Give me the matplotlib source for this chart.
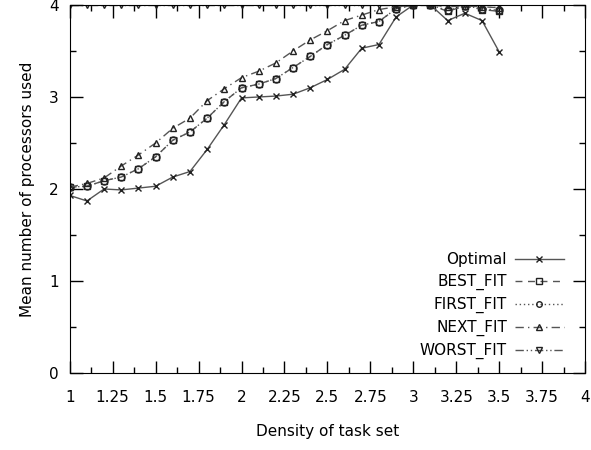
import numpy as np
import matplotlib.pyplot as plt
from matplotlib.ticker import MultipleLocator

# task set density (x axis)
density = [1.0, 1.1, 1.2, 1.3, 1.4, 1.5, 1.6, 1.7, 1.8, 1.9,
           2.0, 2.1, 2.2, 2.3, 2.4, 2.5, 2.6, 2.7, 2.8, 2.9,
           3.0, 3.1, 3.2, 3.3, 3.4, 3.5]

optimal = [1.93, 1.87, 2.00, 1.99, 2.01, 2.03, 2.13, 2.19, 2.43, 2.70,
           2.99, 3.00, 3.01, 3.03, 3.10, 3.19, 3.30, 3.53, 3.57, 3.87,
           4.00, 4.00, 3.83, 3.91, 3.83, 3.49]
best_fit = [2.02, 2.03, 2.09, 2.13, 2.22, 2.35, 2.53, 2.62, 2.77, 2.95,
            3.10, 3.14, 3.20, 3.32, 3.44, 3.57, 3.67, 3.78, 3.82, 3.96,
            4.00, 4.00, 3.93, 3.99, 3.95, 3.93]
first_fit = [2.02, 2.03, 2.09, 2.13, 2.22, 2.35, 2.53, 2.62, 2.77, 2.95,
             3.10, 3.14, 3.20, 3.32, 3.44, 3.57, 3.67, 3.78, 3.82, 3.96,
             4.00, 4.00, 3.94, 3.99, 3.96, 3.94]
next_fit = [2.02, 2.06, 2.12, 2.25, 2.37, 2.50, 2.66, 2.77, 2.96, 3.09,
            3.21, 3.28, 3.37, 3.50, 3.62, 3.72, 3.83, 3.89, 3.95, 3.98,
            4.00, 4.00, 3.98, 3.99, 3.98, 3.97]
worst_fit = [4.0] * len(density)

series = [
    ("Optimal", optimal, "-", "x"),
    ("BEST_FIT", best_fit, (0, (5, 4)), "s"),
    ("FIRST_FIT", first_fit, (0, (1, 2)), "o"),
    ("NEXT_FIT", next_fit, (0, (6, 3, 1, 3)), "^"),
    ("WORST_FIT", worst_fit, (0, (6, 2, 1, 2, 1, 2)), "v"),
]

fig = plt.figure(figsize=(5.91, 4.5), dpi=100)
ax = fig.add_axes([0.118, 0.171, 0.872, 0.818])

for name, vals, ls, mk in series:
    ax.plot(density, vals, linestyle=ls, marker=mk, color="#555555",
            markerfacecolor="none", markeredgecolor="#222222",
            markersize=5, markeredgewidth=1.0, linewidth=1.0, label=name)

ax.set_xlim(1, 4)
ax.set_ylim(0, 4)
ax.xaxis.set_minor_locator(MultipleLocator(0.125))
ax.yaxis.set_major_locator(MultipleLocator(1))
ax.yaxis.set_minor_locator(MultipleLocator(0.5))
ax.set_xticks(np.arange(1, 4.01, 0.25))
ax.set_xticklabels(["1", "1.25", "1.5", "1.75", "2", "2.25", "2.5", "2.75",
                    "3", "3.25", "3.5", "3.75", "4"])
ax.tick_params(which="major", direction="in", length=9, width=1,
               top=True, right=True, labelsize=11, pad=12)
ax.tick_params(which="minor", direction="in", length=4.5, width=1,
               top=True, right=True)
ax.tick_params(axis="y", pad=8)

ax.set_xlabel("Density of task set", fontsize=11, labelpad=14)
ax.set_ylabel("Mean number of processors used", fontsize=11, labelpad=10)

leg = ax.legend(loc="lower right", bbox_to_anchor=(0.985, 0.0), frameon=False,
                markerfirst=False, fontsize=11, handlelength=3.2,
                labelspacing=0.45, handletextpad=0.5, markerscale=0.8)
leg._legend_box.align = "right"

fig.savefig("out.png", dpi=100)
